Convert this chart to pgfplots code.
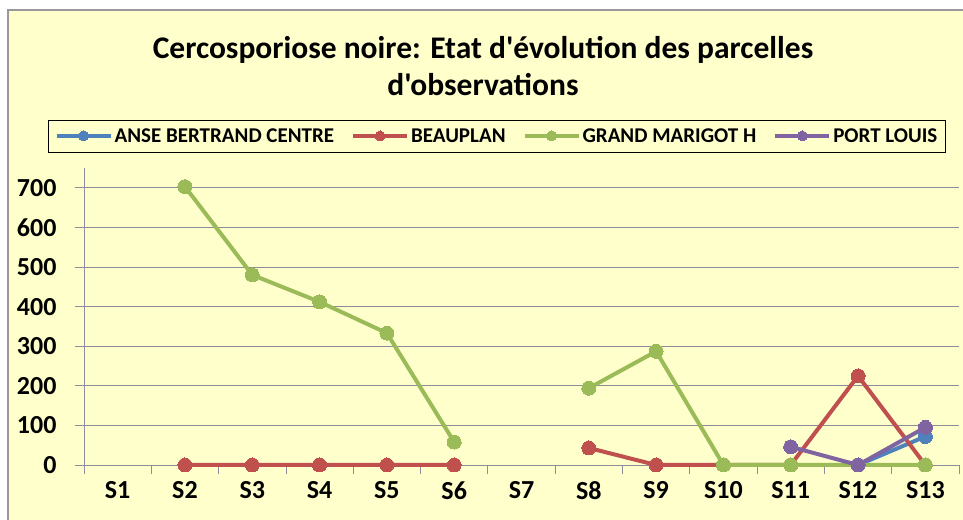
\documentclass[border=0pt]{standalone}
\usepackage{fontspec}
\setmainfont{Carlito}[Ligatures=TeXOff]
\usepackage{pgfplots}
\pgfplotsset{compat=1.18}
\definecolor{bg}{RGB}{255,255,204}
\definecolor{cblue}{RGB}{79,129,189}
\definecolor{cred}{RGB}{192,80,77}
\definecolor{cgreen}{RGB}{155,187,89}
\definecolor{cpurple}{RGB}{128,100,162}
\definecolor{gridc}{RGB}{140,140,155}
\begin{document}
\begin{tikzpicture}
\useasboundingbox (0pt,0pt) rectangle (963pt,519pt);
\fill[white] (0pt,0pt) rectangle (963pt,519pt);
\fill[bg] (8pt,-5pt) rectangle (975pt,509pt);
\draw[gray!80, line width=1.5pt] (8pt,-5pt) -- (8pt,509pt) -- (975pt,509pt);
\node[font=\bfseries\fontsize{31.5}{37}\selectfont, align=center] at (483pt,453pt) {Cercosporiose noire: Etat d'évolution des parcelles\\d'observations};
\begin{axis}[
  at={(84pt,54pt)}, anchor=south west,
  scale only axis, width=875pt, height=297pt,
  xmin=0.5, xmax=13.5, ymin=0, ymax=750,
  axis x line=bottom, axis y line=left,
  axis line style={-, gridc, line width=0.8pt},
  clip=false,
  unbounded coords=jump,
  ytick={0,100,...,700},
  ymajorgrids, grid style={gridc, line width=0.8pt},
  tick align=outside, major tick length=9pt,
  tick style={gridc, line width=0.8pt},
  xtick={0.5,1.5,...,13.5}, xticklabels={},
  extra x ticks={1,...,13},
  extra x tick labels={S1,S2,S3,S4,S5,S6,S7,S8,S9,S10,S11,S12,S13},
  extra x tick style={major tick length=0pt, grid=none},
  /pgf/number format/assume math mode=true,
  ticklabel style={font=\bfseries\fontsize{26}{26}\selectfont},
  yticklabel style={xshift=-15pt},
  xticklabel style={yshift=-13pt},
  legend cell align=left,
  legend style={at={(0.472,1.108)}, anchor=center, legend columns=4, draw=black, line width=0.8pt, fill=bg,
    font=\bfseries\fontsize{21}{21}\selectfont, inner xsep=6pt, inner ysep=7pt,
    nodes={anchor=base west, text height=14pt, text depth=0pt, yshift=-7pt},
    /tikz/every even column/.append style={column sep=15pt}},
  legend image code/.code={\draw[mark repeat=2, mark phase=2, #1, mark size=5pt] plot coordinates {(0pt,0pt) (27pt,0pt) (54pt,0pt)};},
  every axis plot/.append style={line width=4pt, mark=*, mark size=7pt, mark options={line width=0pt}},
]
\addplot[cblue] coordinates {(12,0) (13,72)};
\addlegendentry{ANSE BERTRAND CENTRE}
\addplot[cred] coordinates {(2,0) (3,0) (4,0) (5,0) (6,0) (7,nan) (8,43) (9,0) (10,0) (11,0) (12,225) (13,0)};
\addlegendentry{BEAUPLAN}
\addplot[cgreen] coordinates {(2,703) (3,480) (4,412) (5,333) (6,58) (7,nan) (8,194) (9,287) (10,0) (11,0) (12,0) (13,0)};
\addlegendentry{GRAND MARIGOT H}
\addplot[cpurple] coordinates {(11,46) (12,0) (13,95)};
\addlegendentry{PORT LOUIS}
\end{axis}
\end{tikzpicture}
\end{document}
